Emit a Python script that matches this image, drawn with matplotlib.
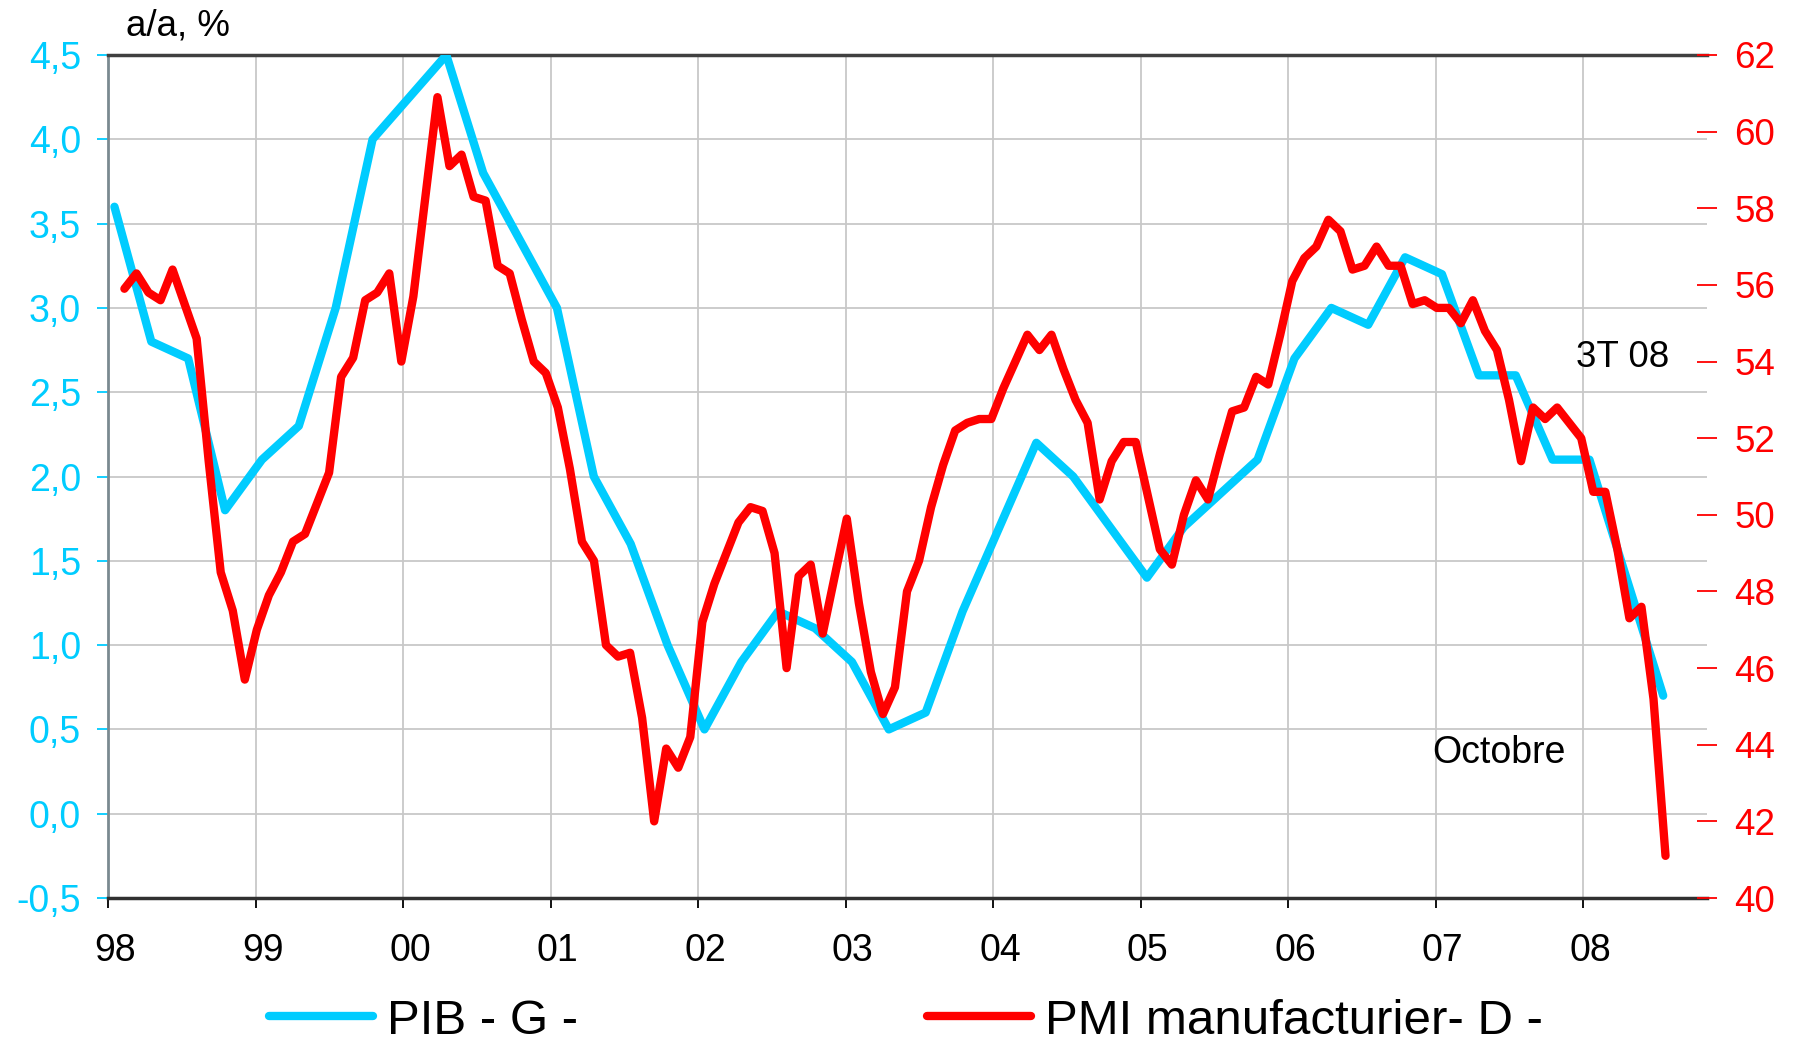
import numpy as np
import matplotlib
matplotlib.use("Agg")
import matplotlib.pyplot as plt
from matplotlib.lines import Line2D
from matplotlib.transforms import ScaledTranslation

plt.rcParams['font.family'] = ['Liberation Sans', 'DejaVu Sans']

# ---------------- data ----------------
# GDP (PIB) a/a %, quarterly T1 98 .. T3 08
gdp_years = [1998]*4 + [1999]*4 + [2000]*4 + [2001]*4 + [2002]*4 + [2003]*4 + \
            [2004]*4 + [2005]*4 + [2006]*4 + [2007]*4 + [2008]*3
gdp_quarters = [1, 2, 3, 4]*10 + [1, 2, 3]
gdp = [3.6, 2.8, 2.7, 1.8, 2.1, 2.3, 3.0, 4.0, 4.25, 4.5, 3.8, 3.4, 3.0, 2.0,
       1.6, 1.0, 0.5, 0.9, 1.2, 1.1, 0.9, 0.5, 0.6, 1.2, 1.7, 2.2, 2.0, 1.7,
       1.4, 1.7, 1.9, 2.1, 2.7, 3.0, 2.9, 3.3, 3.2, 2.6, 2.6, 2.1, 2.1, 1.4, 0.7]

# PMI manufacturier, monthly Feb 1998 .. Oct 2008
pmi = [55.9, 56.3, 55.8, 55.6, 56.4, 55.5, 54.6, 51.4, 48.5, 47.5, 45.7, 47.0,
       47.9, 48.5, 49.3, 49.5, 50.3, 51.1, 53.6, 54.1, 55.6, 55.8, 56.3, 54.0,
       55.7, 58.3, 60.9, 59.1, 59.4, 58.3, 58.2, 56.5, 56.3, 55.1, 54.0, 53.7,
       52.8, 51.2, 49.3, 48.8, 46.6, 46.3, 46.4, 44.7, 42.0, 43.9, 43.4, 44.2,
       47.2, 48.2, 49.0, 49.8, 50.2, 50.1, 49.0, 46.0, 48.4, 48.7, 46.9, 48.4,
       49.9, 47.7, 45.9, 44.8, 45.5, 48.0, 48.8, 50.2, 51.3, 52.2, 52.4, 52.5,
       52.5, 53.3, 54.0, 54.7, 54.3, 54.7, 53.8, 53.0, 52.4, 50.4, 51.4, 51.9,
       51.9, 50.5, 49.1, 48.7, 50.0, 50.9, 50.4, 51.6, 52.7, 52.8, 53.6, 53.4,
       54.7, 56.1, 56.7, 57.0, 57.7, 57.4, 56.4, 56.5, 57.0, 56.5, 56.5, 55.5,
       55.6, 55.4, 55.4, 55.0, 55.6, 54.8, 54.3, 53.0, 51.4, 52.8, 52.5, 52.8,
       52.4, 52.0, 50.6, 50.6, 49.1, 47.3, 47.6, 45.2, 41.1]

year_ticks = list(range(1998, 2009))
year_labels = ['98', '99', '00', '01', '02', '03', '04', '05', '06', '07', '08']
left_ticks = [-0.5, 0.0, 0.5, 1.0, 1.5, 2.0, 2.5, 3.0, 3.5, 4.0, 4.5]
right_ticks = list(range(40, 63, 2))

CYAN = '#00CCFF'
RED = '#FF0000'
LW = 6.0

# ---------------- figure ----------------
W, H = 1795, 1042
fig = plt.figure(figsize=(W/100, H/100), dpi=100)
rect = [108.3/W, 1 - 898/H, (1707 - 108.3)/W, (898 - 55)/H]
ax = fig.add_axes(rect)

gdp_x = np.array(gdp_years) + (np.array(gdp_quarters) - 1)*0.25 + 1/24.0
ax.plot(gdp_x, gdp, color=CYAN, lw=LW, solid_capstyle='round',
        solid_joinstyle='round', zorder=3)

ax.set_xlim(1998.0, 1998 + (1707 - 108.3)/147.5)
ax.set_ylim(-0.5, 4.5)
ax.set_yticks(left_ticks)
ax.set_yticklabels([f"{v:.1f}".replace('.', ',') for v in left_ticks])
ax.set_xticks(year_ticks)
ax.set_xticklabels(year_labels)

ax.grid(True, color='#C8C8C8', lw=1.3, zorder=0)
ax.set_axisbelow(True)
for gl in ax.get_xgridlines()[:1]:
    gl.set_visible(False)

ax.tick_params(axis='y', colors=CYAN, labelcolor=CYAN, labelsize=27,
               length=8, width=1.3, direction='out', pad=11.5)
ax.tick_params(axis='x', colors='#000000', labelcolor='#000000', labelsize=27,
               length=7, width=1.3, direction='out', pad=18)
offset = ScaledTranslation(7/100, 0, fig.dpi_scale_trans)
for lab in ax.get_xticklabels():
    lab.set_transform(lab.get_transform() + offset)

ax.spines['left'].set_color('#7a8a90')
ax.spines['left'].set_linewidth(2)
ax.spines['top'].set_color('#404040')
ax.spines['top'].set_linewidth(2.5)
ax.spines['bottom'].set_color('#303030')
ax.spines['bottom'].set_linewidth(2.5)
ax.spines['right'].set_visible(False)

# secondary axes for PMI (own horizontal category axis, right vertical axis)
ax2 = fig.add_axes(rect, frameon=False)
pmi_x = np.arange(len(pmi))
ax2.plot(pmi_x, pmi, color=RED, lw=LW, solid_capstyle='round',
         solid_joinstyle='round', zorder=4)
ax2.set_xlim((108.3 - 124.4)/12.04, (1707 - 124.4)/12.04)
ax2.set_ylim(40, 62)
ax2.set_yticks(right_ticks)
ax2.yaxis.tick_right()
ax2.xaxis.set_visible(False)
ax2.tick_params(axis='y', colors=RED, labelcolor=RED, labelsize=26.5,
                length=15, width=1.3, direction='inout', pad=12)
ax2.spines['right'].set_visible(True)
ax2.spines['right'].set_color('#9a5a5a')
ax2.spines['right'].set_linewidth(2)
for s in ['left', 'top', 'bottom']:
    ax2.spines[s].set_visible(False)

# texts
fig.text(126/W, 1 - 35/H, 'a/a, %', fontsize=26.5, color='black',
         ha='left', va='baseline')
ax.text(2006.974, 0.302, 'Octobre', fontsize=27, ha='left', va='baseline')
ax.text(2007.953, 2.651, '3T 08', fontsize=26.5, ha='left', va='baseline')

# legend
h1 = Line2D([], [], color=CYAN, lw=LW, solid_capstyle='round')
h2 = Line2D([], [], color=RED, lw=LW, solid_capstyle='round')
leg1 = fig.legend([h1], ['PIB - G -'], loc='center left',
                  bbox_to_anchor=(269/W, 1 - 1021/H), frameon=False,
                  fontsize=35.5, handlelength=2.1, handletextpad=0.3,
                  borderpad=0, borderaxespad=0)
leg2 = fig.legend([h2], ['PMI manufacturier- D -'], loc='center left',
                  bbox_to_anchor=(927/W, 1 - 1021/H), frameon=False,
                  fontsize=35.5, handlelength=2.1, handletextpad=0.3,
                  borderpad=0, borderaxespad=0)

fig.savefig('out.png', dpi=100)
